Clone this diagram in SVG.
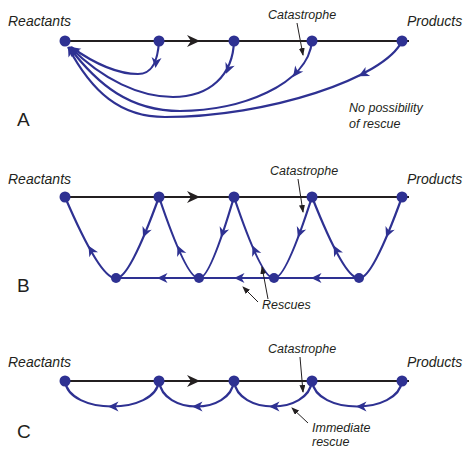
<svg xmlns="http://www.w3.org/2000/svg" xmlns:xlink="http://www.w3.org/1999/xlink" width="466" height="449" viewBox="0 0 466 449">
<style>
.lbl{font-family:"Liberation Sans",Arial,sans-serif;font-style:italic;fill:#231f20}
.big{font-size:14px}
.sm{font-size:12.5px}
.pan{font-family:"Liberation Sans",Arial,sans-serif;font-size:19px;fill:#231f20}
.track{stroke:#231f20;stroke-width:2;fill:none}
.blue{stroke:#2e3192;stroke-width:2.2;fill:none}
.node{fill:#2e3192}
.ptr{stroke:#231f20;stroke-width:1;fill:none;marker-end:url(#pt)}
</style>
<defs>
<path id="ab" d="M5,0 L-5.5,-5 L-2.5,0 L-5.5,5 Z" fill="#2e3192"/>
<path id="bk" d="M6,0 L-7,-6 L-3,0 L-7,6 Z" fill="#231f20"/>
<marker id="pt" viewBox="0 0 8 6" refX="7" refY="3" markerWidth="8" markerHeight="6" markerUnits="userSpaceOnUse" orient="auto">
<path d="M0,0 L8,3 L0,6 Z" fill="#231f20"/>
</marker>
<marker id="ae" viewBox="-10 -5 11 10" refX="0" refY="0" markerWidth="11" markerHeight="10" markerUnits="userSpaceOnUse" orient="auto">
<path d="M0,0 L-9.5,-4.5 L-7,0 L-9.5,4.5 Z" fill="#2e3192"/>
</marker>
</defs>

<!-- Panel A -->
<g id="panelA">
<text class="lbl big" x="8" y="26">Reactants</text>
<text class="lbl big" x="407" y="26">Products</text>
<text class="lbl sm" x="268" y="19">Catastrophe</text>
<text class="lbl sm" x="349" y="112">No possibility</text>
<text class="lbl sm" x="349" y="128">of rescue</text>
<text class="pan" x="17" y="126">A</text>
<g id="connA">
<line class="track" x1="65" y1="41" x2="409" y2="41"/>
<use href="#bk" transform="translate(194,41)"/>
<path class="blue" marker-end="url(#ae)" d="M159,41 C158,58 154,74 138,74 C118,74 95,64 71,47"/>
<path class="blue" marker-end="url(#ae)" d="M234,41 C233,75 210,97 173,97 C140,97 103,80 70,47"/>
<path class="blue" marker-end="url(#ae)" d="M312,41 C308,85 240,111 180,111 C130,111 98,85 69,47"/>
<path class="blue" marker-end="url(#ae)" d="M402,41 C385,78 268,117 165,117 C120,117 92,92 68,47"/>
<use href="#ab" transform="translate(156,63) rotate(96)"/>
<use href="#ab" transform="translate(228,69) rotate(112)"/>
<use href="#ab" transform="translate(296,73) rotate(126)"/>
<use href="#ab" transform="translate(363,74) rotate(152.6)"/>
<line class="ptr" x1="297" y1="23" x2="303" y2="55"/>
</g>
<g id="A-n1"><circle class="node" cx="65" cy="41" r="5.5"/></g>
<g id="A-n2"><circle class="node" cx="159" cy="41" r="5.5"/></g>
<g id="A-n3"><circle class="node" cx="234" cy="41" r="5.5"/></g>
<g id="A-n4"><circle class="node" cx="312" cy="41" r="5.5"/></g>
<g id="A-n5"><circle class="node" cx="402" cy="41" r="5.5"/></g>
</g>

<!-- Panel B -->
<g id="panelB">
<text class="lbl big" x="8" y="184">Reactants</text>
<text class="lbl big" x="407" y="184">Products</text>
<text class="lbl sm" x="270" y="175">Catastrophe</text>
<text class="lbl sm" x="262" y="309">Rescues</text>
<text class="pan" x="17" y="292">B</text>
<g id="connB">
<line class="track" x1="65" y1="197" x2="409" y2="197"/>
<use href="#bk" transform="translate(194,197)"/>
<line class="blue" x1="116" y1="278" x2="359" y2="278"/>
<path class="blue" d="M65,197 Q100.7,280 116,278"/>
<path class="blue" d="M159,197 Q128.9,280 116,278"/>
<path class="blue" d="M159,197 Q187,280 199,278"/>
<path class="blue" d="M234,197 Q209.5,280 199,278"/>
<path class="blue" d="M234,197 Q262,280 274,278"/>
<path class="blue" d="M312,197 Q285.4,280 274,278"/>
<path class="blue" d="M312,197 Q344.9,280 359,278"/>
<path class="blue" d="M402,197 Q371.9,280 359,278"/>
<use href="#ab" transform="translate(91,250) rotate(-119.4)"/>
<use href="#ab" transform="translate(179.5,250) rotate(-113.8)"/>
<use href="#ab" transform="translate(254.5,250) rotate(-113.8)"/>
<use href="#ab" transform="translate(336,250) rotate(-117.4)"/>
<use href="#ab" transform="translate(145,233) rotate(112.7)"/>
<use href="#ab" transform="translate(222.6,233) rotate(108.8)"/>
<use href="#ab" transform="translate(299.6,233) rotate(110.3)"/>
<use href="#ab" transform="translate(388,233) rotate(112.7)"/>
<use href="#ab" transform="translate(162,278) rotate(180)"/>
<use href="#ab" transform="translate(239,278) rotate(180)"/>
<use href="#ab" transform="translate(316,278) rotate(180)"/>
<line class="ptr" x1="298" y1="179" x2="303" y2="212"/>
<line class="ptr" x1="258" y1="302" x2="243" y2="287"/>
<line class="ptr" x1="268" y1="299" x2="262" y2="267"/>
</g>
<g id="B-n1"><circle class="node" cx="65" cy="197" r="5.5"/></g>
<g id="B-n2"><circle class="node" cx="159" cy="197" r="5.5"/></g>
<g id="B-n3"><circle class="node" cx="234" cy="197" r="5.5"/></g>
<g id="B-n4"><circle class="node" cx="312" cy="197" r="5.5"/></g>
<g id="B-n5"><circle class="node" cx="402" cy="197" r="5.5"/></g>
<g id="B-m1"><circle class="node" cx="116" cy="278" r="5"/></g>
<g id="B-m2"><circle class="node" cx="199" cy="278" r="5"/></g>
<g id="B-m3"><circle class="node" cx="274" cy="278" r="5"/></g>
<g id="B-m4"><circle class="node" cx="359" cy="278" r="5"/></g>
</g>

<!-- Panel C -->
<g id="panelC">
<text class="lbl big" x="8" y="367">Reactants</text>
<text class="lbl big" x="407" y="367">Products</text>
<text class="lbl sm" x="268" y="353">Catastrophe</text>
<text class="lbl sm" x="312" y="432">Immediate</text>
<text class="lbl sm" x="312" y="446">rescue</text>
<text class="pan" x="17" y="438">C</text>
<g id="connC">
<line class="track" x1="65" y1="381" x2="409" y2="381"/>
<use href="#bk" transform="translate(194,381)"/>
<path class="blue" d="M159,381 C155,415 69,415 65,381"/>
<path class="blue" d="M234,381 C230,415 163,415 159,381"/>
<path class="blue" d="M312,381 C308,415 238,415 234,381"/>
<path class="blue" d="M402,381 C398,415 316,415 312,381"/>
<use href="#ab" transform="translate(113,406.5) rotate(180)"/>
<use href="#ab" transform="translate(197,406.5) rotate(180)"/>
<use href="#ab" transform="translate(274,406.5) rotate(180)"/>
<use href="#ab" transform="translate(361,406.5) rotate(180)"/>
<line class="ptr" x1="300" y1="357" x2="303" y2="392"/>
<line class="ptr" x1="308" y1="423" x2="292" y2="408"/>
</g>
<g id="C-n1"><circle class="node" cx="65" cy="381" r="5.5"/></g>
<g id="C-n2"><circle class="node" cx="159" cy="381" r="5.5"/></g>
<g id="C-n3"><circle class="node" cx="234" cy="381" r="5.5"/></g>
<g id="C-n4"><circle class="node" cx="312" cy="381" r="5.5"/></g>
<g id="C-n5"><circle class="node" cx="402" cy="381" r="5.5"/></g>
</g>
</svg>
